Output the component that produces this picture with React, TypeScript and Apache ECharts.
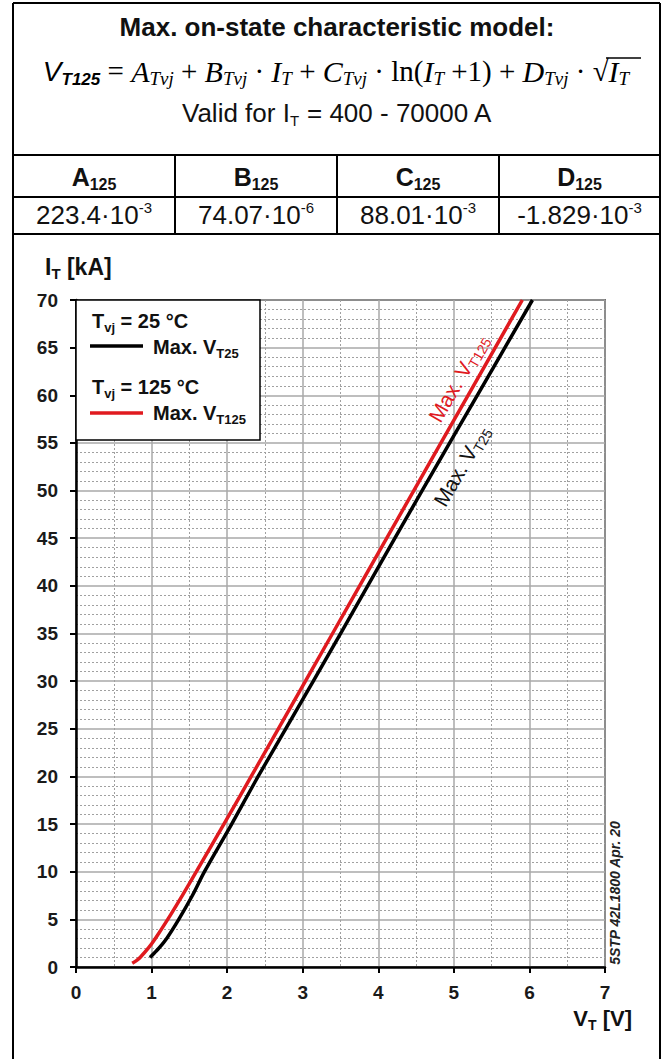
import React, { useEffect, useRef } from 'react';
import * as echarts from 'echarts';

// ---- data ----
const xTickLabels = ['0', '1', '2', '3', '4', '5', '6', '7'];
const yTickLabels = ['0', '5', '10', '15', '20', '25', '30', '35', '40', '45', '50', '55', '60', '65', '70'];

// Tvj = 125 °C  (I_T in kA, V_T in V)
const current125 = [0.4, 0.7, 1, 2, 3, 5, 7.5, 10, 15, 20, 30, 40, 50, 60, 70];
const voltage125 = [0.744, 0.804, 0.848, 0.959, 1.05, 1.214, 1.406, 1.592, 1.957, 2.318, 3.036, 3.753, 4.47, 5.188, 5.906];

// Tvj = 25 °C
const current25 = [1, 1.5, 2, 3, 5, 7.5, 10, 15, 20, 30, 40, 50, 60, 70];
const voltage25 = [0.98, 1.04, 1.1, 1.2, 1.36, 1.54, 1.7, 2.06, 2.41, 3.14, 3.86, 4.58, 5.31, 6.04];

const coeffNames = ['A', 'B', 'C', 'D'];
const coeffMantissa = ['223.4', '74.07', '88.01', '-1.829'];
const coeffExponent = ['-3', '-6', '-3', '-3'];

const SANS = '"Liberation Sans", Arial, sans-serif';
const SERIF = '"Liberation Serif", "Times New Roman", serif';

export default function App() {
  const ref = useRef<HTMLDivElement>(null);

  useEffect(() => {
    if (!ref.current) return;
    const chart = echarts.init(ref.current, undefined, { renderer: 'svg' });

    const L = 13, R = 660;
    const colX = [L, 175, 337, 499, R];

    const g: any[] = [];
    const line = (x1: number, y1: number, x2: number, y2: number, w = 2, color = '#000') =>
      g.push({ type: 'line', z: 100, shape: { x1, y1, x2, y2 }, style: { stroke: color, lineWidth: w } });

    // outer frame
    line(L, 3, L, 1059);
    line(R, 3, R, 1059);
    line(L, 3, R, 3);
    line(L, 155, R, 155);
    line(L, 197, R, 197);
    line(L, 234, R, 234);
    for (let i = 1; i < 4; i++) line(colX[i], 155, colX[i], 234);

    const txt = (x: number, y: number, text: string, rich: any, align = 'center', extra: any = {}) =>
      g.push({
        type: 'text', z: 101, x, y, ...extra,
        style: { text, rich, align, verticalAlign: 'middle', textAlign: align, textVerticalAlign: 'middle', fill: '#000' },
      });

    // title
    txt(337, 27, '{t|Max. on-state characteristic model:}', {
      t: { fontFamily: SANS, fontWeight: 'bold', fontSize: 26, fill: '#111' },
    });

    // formula
    txt(
      336, 71,
      '{vi|V}{vs|T125}{op| = }{ti|A}{ts|Tvj}{op| + }{ti|B}{ts|Tvj}{op| · }{ti|I}{ts|T}{op| + }{ti|C}{ts|Tvj}{op| · ln(}{ti|I}{ts|T}{op| +1) + }{ti|D}{ts|Tvj}{op| · √}{ti|I}{ts|T}',
      {
        vi: { fontFamily: SANS, fontStyle: 'italic', fontSize: 28, lineHeight: 34 },
        vs: { fontFamily: SANS, fontStyle: 'italic', fontWeight: 'bold', fontSize: 17, lineHeight: 17, verticalAlign: 'bottom' },
        ti: { fontFamily: SERIF, fontStyle: 'italic', fontSize: 30, lineHeight: 34 },
        ts: { fontFamily: SERIF, fontStyle: 'italic', fontSize: 19, lineHeight: 17, verticalAlign: 'bottom' },
        op: { fontFamily: SERIF, fontSize: 29, lineHeight: 34 },
      }
    );
    // radical vinculum over I_T
    line(606, 58, 641, 58, 1.5);

    // validity
    txt(337, 113, '{a|Valid for I}{s|T}{a| = 400 - 70000 A}', {
      a: { fontFamily: SANS, fontSize: 26, lineHeight: 30, fill: '#111' },
      s: { fontFamily: SANS, fontSize: 15, lineHeight: 15, verticalAlign: 'bottom', fill: '#111' },
    });

    // table
    for (let i = 0; i < 4; i++) {
      const cx = (colX[i] + colX[i + 1]) / 2;
      txt(cx, 177, `{a|${coeffNames[i]}}{s|125}`, {
        a: { fontFamily: SANS, fontWeight: 'bold', fontSize: 25, lineHeight: 30, fill: '#111' },
        s: { fontFamily: SANS, fontWeight: 'bold', fontSize: 16, lineHeight: 16, verticalAlign: 'bottom', fill: '#111' },
      });
      txt(cx, 215, `{a|${coeffMantissa[i]}·10}{s|${coeffExponent[i]}}`, {
        a: { fontFamily: SANS, fontSize: 26, lineHeight: 30, fill: '#111' },
        s: { fontFamily: SANS, fontSize: 15, lineHeight: 15, verticalAlign: 'top', fill: '#111' },
      });
    }

    // axis names
    txt(45, 267, '{a|I}{s|T}{a| [kA]}', {
      a: { fontFamily: SANS, fontWeight: 'bold', fontSize: 23, lineHeight: 28, fill: '#111' },
      s: { fontFamily: SANS, fontWeight: 'bold', fontSize: 15, lineHeight: 15, verticalAlign: 'bottom', fill: '#111' },
    }, 'left');
    txt(632, 1018, '{a|V}{s|T}{a| [V]}', {
      a: { fontFamily: SANS, fontWeight: 'bold', fontSize: 22, lineHeight: 28, fill: '#111' },
      s: { fontFamily: SANS, fontWeight: 'bold', fontSize: 14, lineHeight: 14, verticalAlign: 'bottom', fill: '#111' },
    }, 'right');

    // vertical doc id
    txt(615, 893, '{a|5STP 42L1800 Apr. 20}', {
      a: { fontFamily: SANS, fontWeight: 'bold', fontStyle: 'italic', fontSize: 14, fill: '#222' },
    }, 'center', { rotation: Math.PI / 2 });

    // legend box
    g.push({ type: 'rect', z: 100, shape: { x: 76, y: 300, width: 184, height: 140 }, style: { fill: '#fff', stroke: '#000', lineWidth: 1.5 } });
    const legRich = {
      a: { fontFamily: SANS, fontWeight: 'bold', fontSize: 20, lineHeight: 26, fill: '#111' },
      s: { fontFamily: SANS, fontWeight: 'bold', fontSize: 13, lineHeight: 13, verticalAlign: 'bottom', fill: '#111' },
    };
    txt(92, 321, '{a|T}{s|vj}{a| = 25 °C}', legRich, 'left');
    line(90, 346, 143, 346, 3.5, '#000');
    txt(153, 347, '{a|Max. V}{s|T25}', legRich, 'left');
    txt(92, 387, '{a|T}{s|vj}{a| = 125 °C}', legRich, 'left');
    line(90, 413, 143, 413, 3.5, '#e01a1f');
    txt(153, 413, '{a|Max. V}{s|T125}', legRich, 'left');

    const axisCommon = {
      type: 'value',
      axisLine: { show: true, onZero: false, lineStyle: { color: '#000', width: 2.5 } },
      axisTick: { show: true, length: 6, lineStyle: { color: '#000', width: 2 } },
      splitLine: { show: true, lineStyle: { color: '#a8a8a8', width: 1.5 } },
      minorSplitLine: { show: true, lineStyle: { color: '#a0a0a0', width: 1, type: [2, 2] } },
    };

    const pairs = (xs: number[], ys: number[]) => xs.map((v, i) => [ys[i], v]);

    chart.setOption({
      animation: false,
      grid: { left: 76, right: 62, top: 300, bottom: 92, show: true, borderColor: '#000', borderWidth: 1.5 },
      xAxis: {
        ...axisCommon,
        min: 0, max: 7, interval: 1,
        minorTick: { show: false, splitNumber: 2 },
        axisLabel: {
          margin: 16, fontFamily: SANS, fontWeight: 'bold', fontSize: 19, color: '#1a1a1a',
          formatter: (v: number) => xTickLabels[Math.round(v)] ?? '',
        },
      },
      yAxis: {
        ...axisCommon,
        min: 0, max: 70, interval: 5,
        minorTick: { show: false, splitNumber: 5 },
        axisLabel: {
          margin: 18, fontFamily: SANS, fontWeight: 'bold', fontSize: 19, color: '#1a1a1a',
          formatter: (v: number) => yTickLabels[Math.round(v / 5)] ?? '',
        },
      },
      graphic: g,
      series: [
        {
          type: 'line', name: 'Max. VT125', data: pairs(current125, voltage125),
          smooth: 0.3, symbol: 'none', z: 5,
          lineStyle: { color: '#e01a1f', width: 3.5 },
          markPoint: {
            symbol: 'circle', symbolSize: 0,
            data: [{ coord: [5.06, 61.8] }],
            label: {
              show: true, position: 'inside', rotate: 60, formatter: '{a|Max. V}{s|T125}',
              rich: {
                a: { fontFamily: SANS, fontSize: 21, lineHeight: 26, color: '#e01a1f' },
                s: { fontFamily: SANS, fontSize: 14, lineHeight: 14, verticalAlign: 'bottom', color: '#e01a1f' },
              },
            },
          },
        },
        {
          type: 'line', name: 'Max. VT25', data: pairs(current25, voltage25),
          smooth: 0.3, symbol: 'none', z: 5,
          lineStyle: { color: '#000', width: 3.5 },
          markPoint: {
            symbol: 'circle', symbolSize: 0,
            data: [{ coord: [5.1, 52.6] }],
            label: {
              show: true, position: 'inside', rotate: 60, formatter: '{a|Max. V}{s|T25}',
              rich: {
                a: { fontFamily: SANS, fontSize: 21, lineHeight: 26, color: '#111' },
                s: { fontFamily: SANS, fontSize: 14, lineHeight: 14, verticalAlign: 'bottom', color: '#111' },
              },
            },
          },
        },
      ],
    });

    return () => chart.dispose();
  }, []);

  return (
    <div
      ref={ref}
      style={{ position: 'absolute', left: 0, top: 0, width: 667, height: 1059, background: '#fff' }}
    />
  );
}
